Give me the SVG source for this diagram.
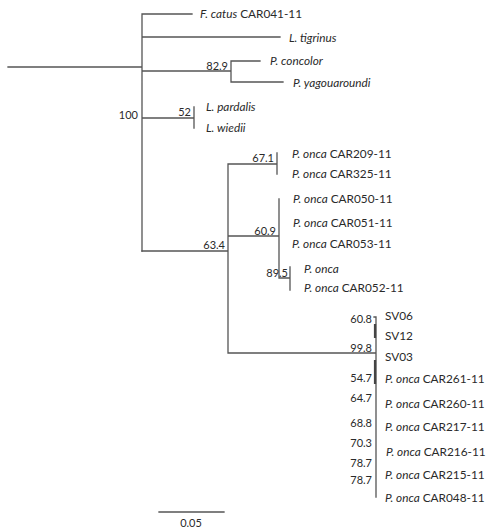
<svg xmlns="http://www.w3.org/2000/svg" width="489" height="528" viewBox="0 0 489 528">
<style>
.br{stroke:#555;stroke-width:1.3;fill:none;stroke-linecap:square}
.thk{stroke:#444;stroke-width:2.2;fill:none}
.lb{font-family:Lato,"Liberation Sans",sans-serif;font-size:11.8px;fill:#2a2a2a}
.sp{font-style:italic}
.bs{font-family:Lato,"Liberation Sans",sans-serif;font-size:11px;fill:#2a2a2a;text-anchor:end}
.sc{font-family:Lato,"Liberation Sans",sans-serif;font-size:11px;fill:#2a2a2a;text-anchor:middle}
</style>
<rect width="489" height="528" fill="#fff"/>
<g id="connectors">
<path class="br" d="M8,67H142M142,14V251M142,14H192M142,37H280M142,71H231M231,61V82M231,61H260M231,82H283M142,118H194M194,107V128"/>
<path class="br" d="M142,251H228M228,164V353M228,164H277M277,153V174M228,236H279M279,199V278M279,278H290M290,267V290M228,353H376M376,317V497M374,317H376"/>
<path class="thk" d="M375,324V338M375,360V384"/>
<path class="br" d="M159,512H224"/>
</g>
<g id="n_fcatus"><text class="lb" x="200" y="18"><tspan class="sp">F. catus</tspan> CAR041-11</text></g>
<g id="n_ltigrinus"><text class="lb sp" x="289" y="42">L. tigrinus</text></g>
<g id="node_829"><text class="bs" x="228" y="70">82.9</text></g>
<g id="n_pconcolor"><text class="lb sp" x="270" y="65">P. concolor</text></g>
<g id="n_pyagou"><text class="lb sp" x="293" y="87">P. yagouaroundi</text></g>
<g id="node_100"><text class="bs" x="138" y="119">100</text></g>
<g id="node_52"><text class="bs" x="191" y="116">52</text></g>
<g id="n_lpardalis"><text class="lb sp" x="206" y="111">L. pardalis</text></g>
<g id="n_lwiedii"><text class="lb sp" x="206" y="132">L. wiedii</text></g>
<g id="node_671"><text class="bs" x="274" y="162">67.1</text></g>
<g id="n_car209"><text class="lb" x="292" y="158"><tspan class="sp">P. onca</tspan> CAR209-11</text></g>
<g id="n_car325"><text class="lb" x="292" y="178"><tspan class="sp">P. onca</tspan> CAR325-11</text></g>
<g id="n_car050"><text class="lb" x="293" y="203"><tspan class="sp">P. onca</tspan> CAR050-11</text></g>
<g id="node_609"><text class="bs" x="276" y="235">60.9</text></g>
<g id="n_car051"><text class="lb" x="293" y="227"><tspan class="sp">P. onca</tspan> CAR051-11</text></g>
<g id="n_car053"><text class="lb" x="292" y="248"><tspan class="sp">P. onca</tspan> CAR053-11</text></g>
<g id="node_634"><text class="bs" x="225" y="249">63.4</text></g>
<g id="node_895"><text class="bs" x="288" y="277">89.5</text></g>
<g id="n_ponca"><text class="lb sp" x="304" y="273">P. onca</text></g>
<g id="n_car052"><text class="lb" x="304" y="292"><tspan class="sp">P. onca</tspan> CAR052-11</text></g>
<g id="node_608"><text class="bs" x="372" y="323">60.8</text></g>
<g id="node_998"><text class="bs" x="372" y="352">99.8</text></g>
<g id="node_547"><text class="bs" x="372" y="382">54.7</text></g>
<g id="node_647"><text class="bs" x="372" y="402">64.7</text></g>
<g id="node_688"><text class="bs" x="372" y="427">68.8</text></g>
<g id="node_703"><text class="bs" x="372" y="447">70.3</text></g>
<g id="node_787a"><text class="bs" x="372" y="467">78.7</text></g>
<g id="node_787b"><text class="bs" x="372" y="484">78.7</text></g>
<g id="n_sv06"><text class="lb" x="385" y="320">SV06</text></g>
<g id="n_sv12"><text class="lb" x="385" y="340">SV12</text></g>
<g id="n_sv03"><text class="lb" x="385" y="361">SV03</text></g>
<g id="n_car261"><text class="lb" x="385" y="383"><tspan class="sp">P. onca</tspan> CAR261-11</text></g>
<g id="n_car260"><text class="lb" x="385" y="408"><tspan class="sp">P. onca</tspan> CAR260-11</text></g>
<g id="n_car217"><text class="lb" x="385" y="431"><tspan class="sp">P. onca</tspan> CAR217-11</text></g>
<g id="n_car216"><text class="lb" x="386" y="456"><tspan class="sp">P. onca</tspan> CAR216-11</text></g>
<g id="n_car215"><text class="lb" x="385" y="479"><tspan class="sp">P. onca</tspan> CAR215-11</text></g>
<g id="n_car048"><text class="lb" x="385" y="502"><tspan class="sp">P. onca</tspan> CAR048-11</text></g>
<g id="scale"><text class="sc" x="191" y="527">0.05</text></g>
</svg>
